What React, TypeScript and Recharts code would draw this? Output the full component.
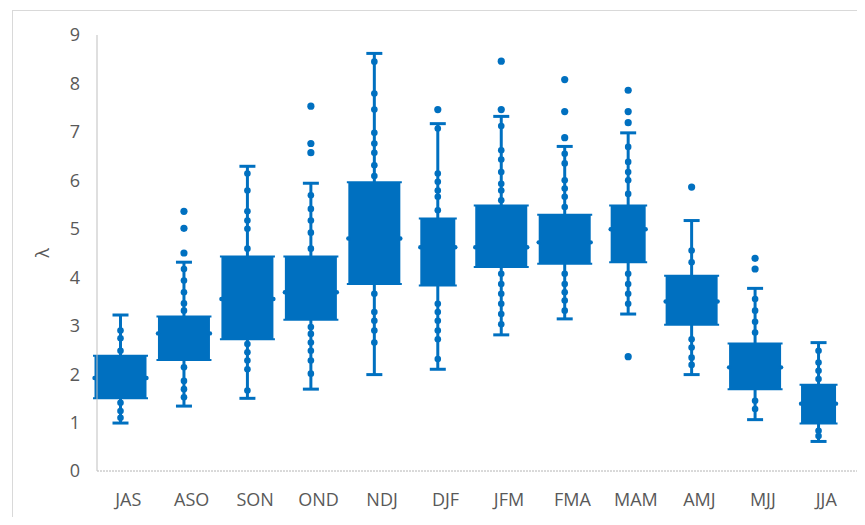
import React from 'react';
import { ComposedChart, Bar, XAxis, YAxis } from 'recharts';

const categories = ['JAS', 'ASO', 'SON', 'OND', 'NDJ', 'DJF', 'JFM', 'FMA', 'MAM', 'AMJ', 'MJJ', 'JJA'];
const whiskerLow = [0.99, 1.34, 1.5, 1.69, 1.99, 2.1, 2.81, 3.14, 3.24, 1.99, 1.06, 0.61];
const q1 = [1.5, 2.29, 2.72, 3.12, 3.86, 3.83, 4.21, 4.28, 4.31, 3.02, 1.69, 0.98];
const median = [1.92, 2.84, 3.55, 3.69, 4.8, 4.62, 4.62, 4.72, 4.99, 3.5, 2.14, 1.39];
const q3 = [2.38, 3.19, 4.43, 4.43, 5.96, 5.21, 5.48, 5.29, 5.48, 4.03, 2.63, 1.78];
const whiskerHigh = [3.22, 4.31, 6.29, 5.94, 8.62, 7.17, 7.32, 6.7, 6.98, 5.17, 3.77, 2.65];

// points seen along the whiskers
const observations = [
    [2.9, 2.74, 2.48, 1.41, 1.24, 1.1],
    [4.17, 3.93, 3.69, 3.46, 3.31, 2.14, 1.86, 1.69, 1.52],
    [6.14, 5.79, 5.36, 5.17, 5.0, 4.59, 2.62, 2.45, 2.28, 2.1, 1.66],
    [5.69, 5.41, 5.17, 4.92, 4.59, 2.97, 2.83, 2.65, 2.48, 2.28, 2.01],
    [8.45, 7.79, 7.46, 6.98, 6.76, 6.57, 6.31, 6.09, 3.66, 3.28, 3.1, 2.9, 2.65],
    [7.07, 6.14, 5.97, 5.79, 5.66, 5.38, 3.45, 3.28, 3.1, 2.9, 2.72, 2.31],
    [7.12, 6.62, 6.43, 6.17, 5.93, 5.79, 5.59, 4.07, 3.86, 3.66, 3.45, 3.24, 3.03],
    [6.55, 6.35, 6.0, 5.83, 5.66, 5.45, 4.07, 3.86, 3.69, 3.52, 3.31],
    [6.69, 6.38, 6.17, 6.0, 5.72, 4.07, 3.86, 3.66, 3.45],
    [4.55, 4.31, 2.72, 2.55, 2.34, 2.19],
    [3.55, 3.31, 3.08, 2.86, 1.45, 1.28],
    [2.48, 2.24, 2.07, 1.9, 0.83, 0.72],
];
const outliers = [
    [],
    [5.36, 5.01, 4.5],
    [],
    [7.53, 6.76, 6.57],
    [],
    [7.46],
    [8.46, 7.46],
    [8.08, 7.42, 6.88],
    [7.86, 7.42, 7.19, 2.36],
    [5.86],
    [4.39, 4.17],
    [],
];
const yTicks = [0, 1, 2, 3, 4, 5, 6, 7, 8, 9];

const rows = categories.map((cat, i) => ({
    cat,
    range: [whiskerLow[i], whiskerHigh[i]],
    lo: whiskerLow[i],
    hi: whiskerHigh[i],
    q1: q1[i],
    median: median[i],
    q3: q3[i],
    points: observations[i],
    outliers: outliers[i],
}));

const BLUE = '#0070C0';
const narrowBoxes = ['DJF', 'MAM', 'JJA'];

const BoxShape = (props: any) => {
    const { x, y, width, height, payload } = props;
    if (!payload) return null;
    const top = Math.min(y, y + height);
    const h = Math.abs(height);
    const k = h / (payload.hi - payload.lo);
    const yOf = (v: number) => top + (payload.hi - v) * k;
    const cx = x + width / 2;
    const hw = narrowBoxes.includes(payload.cat) ? 17.5 : 26;
    const yq3 = yOf(payload.q3);
    const yq1 = yOf(payload.q1);
    const ym = yOf(payload.median);
    return (
        <g>
            <line x1={cx} x2={cx} y1={yOf(payload.hi)} y2={yOf(payload.lo)} stroke={BLUE} strokeWidth={3} />
            <line x1={cx - 8} x2={cx + 8} y1={yOf(payload.hi)} y2={yOf(payload.hi)} stroke={BLUE} strokeWidth={3} />
            <line x1={cx - 8} x2={cx + 8} y1={yOf(payload.lo)} y2={yOf(payload.lo)} stroke={BLUE} strokeWidth={3} />
            {payload.points.map((v: number, j: number) => (
                <circle key={'p' + j} cx={cx} cy={yOf(v)} r={3.3} fill={BLUE} />
            ))}
            {payload.outliers.map((v: number, j: number) => (
                <circle key={'o' + j} cx={cx} cy={yOf(v)} r={3.6} fill={BLUE} />
            ))}
            <rect x={cx - hw} y={yq3} width={hw * 2} height={yq1 - yq3} fill={BLUE} />
            <line x1={cx - hw - 1.5} x2={cx + hw + 1.5} y1={yq3} y2={yq3} stroke={BLUE} strokeWidth={2} />
            <line x1={cx - hw - 1.5} x2={cx + hw + 1.5} y1={yq1} y2={yq1} stroke={BLUE} strokeWidth={2} />
            <circle cx={cx - hw} cy={ym} r={2.2} fill={BLUE} />
            <circle cx={cx + hw} cy={ym} r={2.2} fill={BLUE} />
        </g>
    );
};

const tickStyle = { fill: '#595959', fontSize: 18, fontFamily: '"Open Sans", sans-serif' };

const LambdaLabel = (props: any) => {
    const vb = props.viewBox || {};
    const x = (vb.x || 0) + 42;
    const y = (vb.y || 0) + (vb.height || 0) / 2;
    return (
        <text x={x} y={y} transform={`rotate(-90, ${x}, ${y})`} textAnchor="middle" dominantBaseline="central" {...tickStyle}>
            λ
        </text>
    );
};

export default function App() {
    return (
        <div style={{ position: 'relative', width: 865, height: 525, margin: -8, overflow: 'hidden', background: '#fff' }}>
            <div
                style={{
                    position: 'absolute',
                    left: 12,
                    top: 10,
                    width: 880,
                    height: 540,
                    border: '1px solid #d9d9d9',
                }}
            />
            <ComposedChart
                width={865}
                height={525}
                data={rows}
                margin={{ top: 35, right: 6, bottom: 24, left: 0 }}
                style={{ position: 'absolute', left: 0, top: 0 }}
            >
                <XAxis
                    dataKey="cat"
                    height={30}
                    padding={{ left: -8.5, right: 9 }}
                    tick={{ ...tickStyle, dx: 8 }}
                    tickLine={false}
                    tickSize={0}
                    tickMargin={22}
                    axisLine={{ stroke: '#b4b4b4', strokeDasharray: '2 1' }}
                    interval={0}
                />
                <YAxis
                    width={97}
                    domain={[0, 9]}
                    ticks={yTicks}
                    tick={tickStyle}
                    tickLine={false}
                    tickSize={0}
                    tickMargin={17}
                    axisLine={{ stroke: '#bfbfbf' }}
                    label={<LambdaLabel />}
                />
                <Bar dataKey="range" barSize={52} shape={BoxShape} isAnimationActive={false} />
            </ComposedChart>
        </div>
    );
}
